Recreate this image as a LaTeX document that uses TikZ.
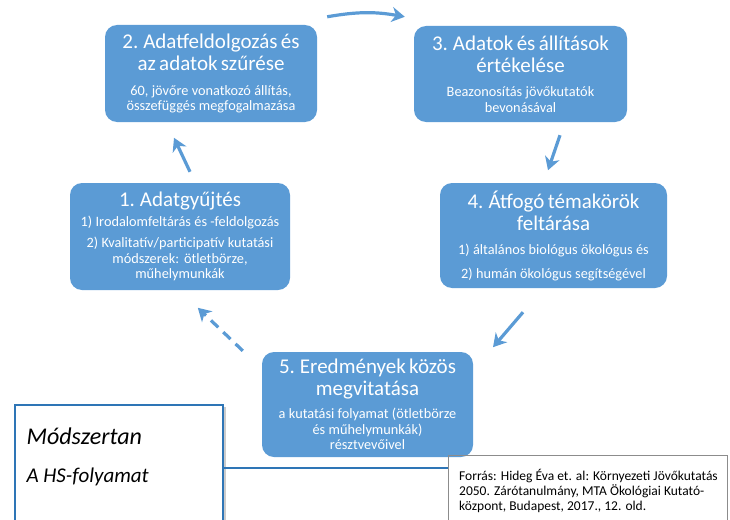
\documentclass[tikz,border=0pt]{standalone}
\usepackage{fontspec}
\setmainfont{Carlito}
\usetikzlibrary{shapes,arrows,arrows.meta,positioning,shadows}
\definecolor{boxblue}{RGB}{91,155,213}
\definecolor{lineblue}{RGB}{46,117,182}
\newcommand{\phasetitle}[1]{{\fontsize{21}{22}\selectfont #1\par}}
\newcommand{\phasetext}[1]{{\fontsize{14.3}{15.5}\selectfont #1\par}}
\tikzstyle{phase} = [rectangle, rounded corners=12pt, inner sep=0pt, align=center, text=white, fill=boxblue]
\tikzstyle{note} = [rectangle, draw=lineblue, line width=1.4pt, fill=white, drop shadow={opacity=0.4, shadow xshift=2.5pt, shadow yshift=-1.5pt}]
\tikzstyle{source} = [rectangle, anchor=north west, align=left, inner xsep=11pt, inner ysep=14pt, font=\fontsize{13.5}{15}\selectfont]
\tikzstyle{arrow} = [line width=3.2pt, boxblue, ->, >={Stealth[length=13pt,width=15pt,inset=4pt]}]

\begin{document}
\begin{tikzpicture}[x=1pt,y=1pt]
	\useasboundingbox (0,0) rectangle (730,-519);
	\node (b2) [phase, text width=208pt, minimum width=212pt, minimum height=97pt] at (211,-73.5) {\phasetitle{2. Adatfeldolgozás és\\az adatok szűrése}\vspace{9pt}\phasetext{60, jövőre vonatkozó állítás,\\összefüggés megfogalmazása}};
	\node (b3) [phase, text width=208pt, minimum width=213pt, minimum height=96pt] at (520.5,-74) {\phasetitle{3. Adatok és állítások\\értékelése}\vspace{9pt}\phasetext{Beazonosítás jövőkutatók\\bevonásával}};
	\node (b1) [phase, text width=218pt, minimum width=220pt, minimum height=107pt] at (180,-236.5) {\phasetitle{1. Adatgyűjtés}\vspace{4pt}\phasetext{1) Irodalomfeltárás és -feldolgozás}\vspace{6pt}\phasetext{2) Kvalitatív/participatív kutatási\\módszerek: ötletbörze,\\műhelymunkák}};
	\node (b4) [phase, text width=222pt, minimum width=227pt, minimum height=105pt] at (553.5,-235.5) {\phasetitle{4. Átfogó témakörök\\feltárása}\vspace{9pt}\phasetext{1) általános biológus ökológus és}\vspace{8pt}\phasetext{2) humán ökológus segítségével}};
	\node (b5) [phase, text width=208pt, minimum width=211pt, minimum height=105pt] at (367.5,-404.5) {\phasetitle{5. Eredmények közös\\megvitatása}\vspace{8pt}\phasetext{a kutatási folyamat (ötletbörze\\és műhelymunkák)\\résztvevőivel}};
	% cycle arrows
	\draw [arrow] ([shift={(10,11)}]b1.north) -- ([shift={(-6,45)}]b1.north);
	\draw [arrow] ([shift={(10,8)}]b2.north east) to[bend left=10] ([shift={(-9,9)}]b3.north west);
	\draw [arrow] ([shift={(39.5,-13)}]b3.south) -- ([shift={(27.5,-48)}]b3.south);
	\draw [arrow] ([shift={(-30.5,-24)}]b4.south) -- ([shift={(-60.5,-59)}]b4.south);
	\draw [arrow, dash pattern=on 10pt off 7pt] ([shift={(-19,1)}]b5.north west) -- ([shift={(-64,44)}]b5.north west);
	% title and source
	\node (mod) [note, minimum width=208pt, minimum height=126pt] at (119,-468) {};
	\node (modtitle) [anchor=west, inner sep=0pt, font=\itshape\fontsize{24}{26}\selectfont] at ([shift={(12,32)}]mod.west) {Módszertan};
	\node (modsub) [anchor=west, inner sep=0pt, font=\itshape\fontsize{21}{23}\selectfont] at ([shift={(12,-9)}]mod.west) {A HS-folyamat};
	\node (src) [source] at (448,-455) {Forrás: Hideg Éva et. al: Környezeti Jövőkutatás\\2050. Zárótanulmány, MTA Ökológiai Kutató-\\központ, Budapest, 2017., 12. old.};
	\draw [lineblue, line width=2.6pt] (mod.east) -- (mod.east -| src.west);
	\draw [black!45, line width=0.7pt] (src.north west) rectangle ++(279,-80);
\end{tikzpicture}
\end{document}
